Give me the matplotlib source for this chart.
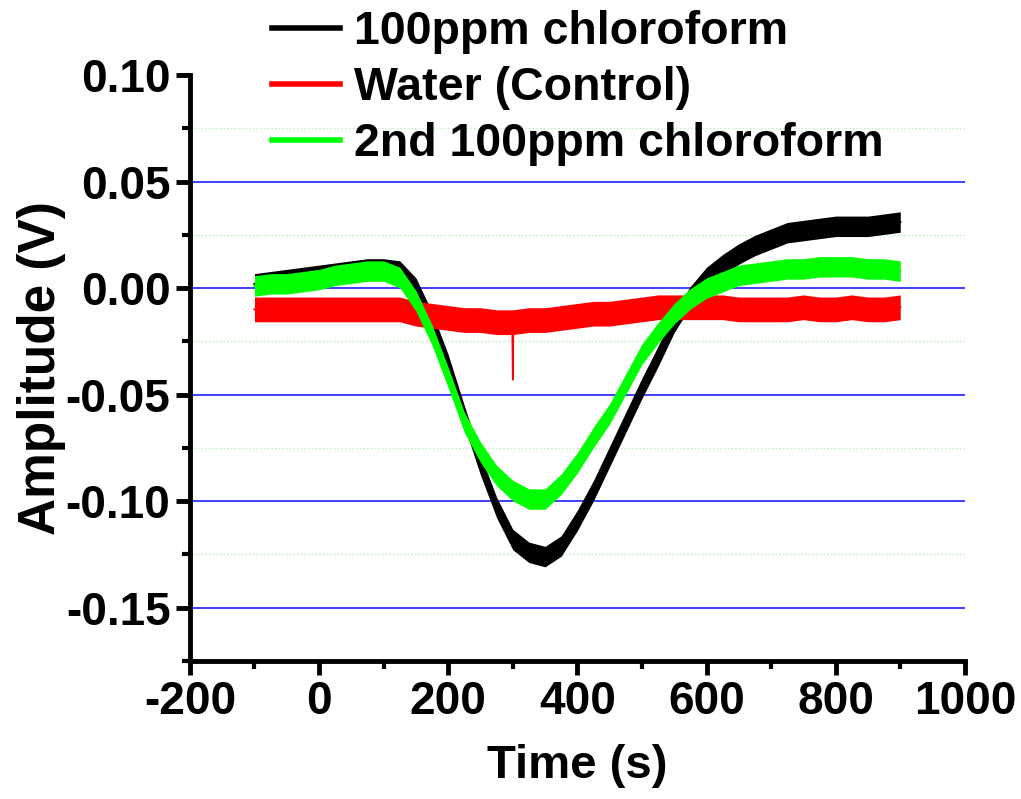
import numpy as np
import matplotlib
matplotlib.use('Agg')
import matplotlib.pyplot as plt
from matplotlib.lines import Line2D
from matplotlib.ticker import MultipleLocator

plt.rcParams['font.family'] = ['Liberation Sans', 'DejaVu Sans']
plt.rcParams['font.weight'] = 'bold'
plt.rcParams['axes.unicode_minus'] = False

# time axis (s), sampled every 25 s from the picture
time = [-100, -75, -50, -25, 0, 25, 50, 75, 100, 125, 150, 175, 200, 225, 250,
        275, 300, 325, 350, 375, 400, 425, 450, 475, 500, 525, 550, 575, 600,
        625, 650, 675, 700, 725, 750, 775, 800, 825, 850, 875, 900]

chloro_1 = [0.002, 0.003, 0.004, 0.005, 0.006, 0.007, 0.008, 0.009, 0.009, 0.008,
            0.000, -0.016, -0.036, -0.060, -0.083, -0.103, -0.118, -0.124, -0.126,
            -0.121, -0.109, -0.095, -0.079, -0.063, -0.047, -0.032, -0.016, -0.004,
            0.005, 0.011, 0.016, 0.020, 0.023, 0.026, 0.027, 0.028, 0.029, 0.029,
            0.029, 0.030, 0.031]

water = [-0.010, -0.010, -0.010, -0.010, -0.010, -0.010, -0.010, -0.010, -0.010,
         -0.010, -0.012, -0.013, -0.014, -0.015, -0.015, -0.016, -0.016, -0.015,
         -0.015, -0.014, -0.013, -0.012, -0.012, -0.011, -0.010, -0.009, -0.009,
         -0.009, -0.009, -0.009, -0.010, -0.010, -0.010, -0.010, -0.009, -0.010,
         -0.010, -0.009, -0.010, -0.010, -0.009]

chloro_2 = [0.001, 0.002, 0.002, 0.003, 0.004, 0.006, 0.007, 0.008, 0.008, 0.005,
            -0.006, -0.022, -0.042, -0.063, -0.077, -0.088, -0.095, -0.099, -0.099,
            -0.092, -0.082, -0.070, -0.059, -0.045, -0.031, -0.021, -0.012, -0.005,
            0.000, 0.003, 0.006, 0.007, 0.008, 0.009, 0.009, 0.010, 0.010, 0.010,
            0.009, 0.009, 0.008]

# half width of the noise band of each trace (V)
noise_1 = 0.0048
noise_water = 0.0058
noise_2 = 0.0048

# single downward spike on the water trace
spike_t = [299, 300, 301]
spike_v = [-0.016, -0.043, -0.016]

labels = ['100ppm chloroform', 'Water (Control)', '2nd 100ppm chloroform']
colors = ['black', '#ff0000', '#00ff00']
y_ticks = [-0.15, -0.10, -0.05, 0.00, 0.05, 0.10]
y_tick_labels = ['-0.15', '-0.10', '-0.05', '0.00', '0.05', '0.10']
x_ticks = [-200, 0, 200, 400, 600, 800, 1000]

fig = plt.figure(figsize=(10.21, 7.99), dpi=100)
ax = fig.add_axes([0.186, 0.1727, 0.759, 0.7334])

t = np.array(time)
for vals, h, c in [(chloro_1, noise_1, colors[0]),
                   (water, noise_water, colors[1]),
                   (chloro_2, noise_2, colors[2])]:
    v = np.array(vals)
    ax.fill_between(t, v - h, v + h, color=c, lw=0, zorder=3)
    ax.plot(t, v, color=c, lw=1.5, zorder=3)
    if c == colors[1]:
        ax.plot(spike_t, spike_v, color=c, lw=1.2, zorder=3)

ax.set_xlim(-200, 1000)
ax.set_ylim(-0.175, 0.10)
ax.set_xticks(x_ticks)
ax.set_yticks(y_ticks)
ax.set_yticklabels(y_tick_labels)
ax.xaxis.set_minor_locator(MultipleLocator(100))
ax.yaxis.set_minor_locator(MultipleLocator(0.025))

for s in ['top', 'right']:
    ax.spines[s].set_visible(False)
for s in ['left', 'bottom']:
    ax.spines[s].set_linewidth(3.5)

ax.tick_params(which='major', direction='out', length=10, width=3.5,
               labelsize=33, pad=4)
ax.tick_params(which='minor', direction='out', length=6, width=3)

ax.set_axisbelow(True)
ax.yaxis.grid(True, which='major', color='#3030ff', lw=1.3)
ax.yaxis.grid(True, which='minor', color='#b8f0b8', ls=':', lw=1)
ax.get_ygridlines()[-1].set_visible(False)

ax.set_xlabel('Time (s)', fontsize=34, fontweight='bold', labelpad=14)
ax.set_ylabel('Amplitude (V)', fontsize=37, fontweight='bold', labelpad=0)

handles = [Line2D([], [], color=c, lw=4) for c in colors]
fig.legend(handles, labels, loc='upper left', bbox_to_anchor=(0.262, 0.993),
           frameon=False, fontsize=33.5, handlelength=1.45, handletextpad=0.3,
           labelspacing=0.26, borderpad=0.1, borderaxespad=0)

fig.savefig('out.png', dpi=100)
